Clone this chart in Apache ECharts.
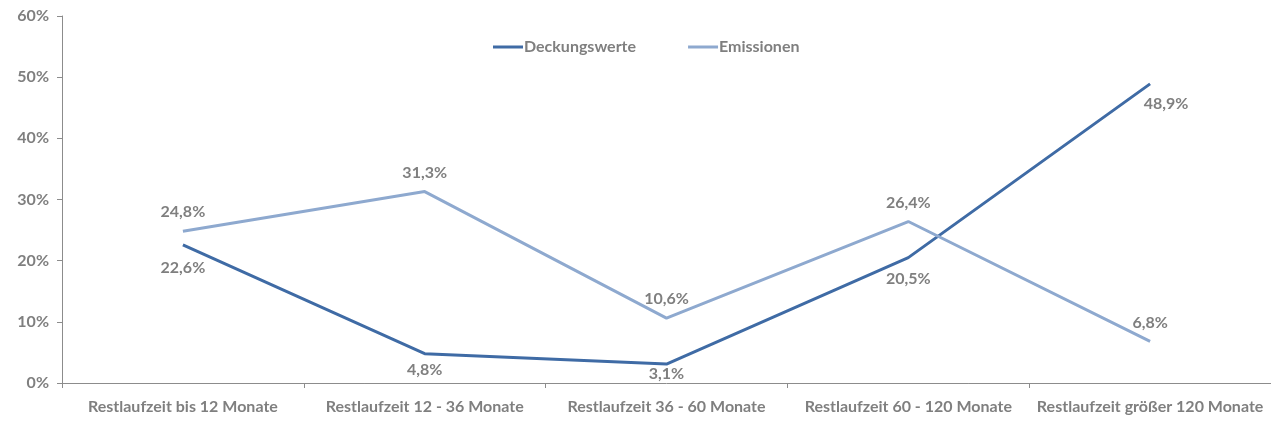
<!DOCTYPE html>
<html><head><meta charset="utf-8">
<script src="https://cdn.jsdelivr.net/npm/echarts@6/dist/echarts.min.js"></script>
<style>html,body{margin:0;padding:0;background:#fff}#c{width:1271px;height:424px}</style>
</head><body><div id="c"></div>
<script>
const categories = ['Restlaufzeit bis 12 Monate','Restlaufzeit 12 - 36 Monate','Restlaufzeit 36 - 60 Monate','Restlaufzeit 60 - 120 Monate','Restlaufzeit größer 120 Monate'];
const deckungswerte = [22.6, 4.8, 3.1, 20.5, 48.9];
const emissionen = [24.8, 31.3, 10.6, 26.4, 6.8];
const yTicks = [0,10,20,30,40,50,60];

const FONT = 'Lato';
const GREY = '#7f7f7f';
const FS = 16;
const C1 = '#3f6ba5', C2 = '#8ea9cf';
const fmt = v => v.toFixed(1).replace('.', ',') + '%';
const lowShift = [{dy:3},{dy:-4},{dy:-10},{dy:1},{dx:16}];
const chart = echarts.init(document.getElementById('c'));
chart.setOption({
  animation:false,
  textStyle:{fontFamily:FONT},
  grid:{left:62,right:0,top:16,bottom:41,containLabel:false},
  legend:{
    top:34,left:488,itemWidth:30,itemHeight:3,itemGap:52,
    icon:'rect',
    textStyle:{color:GREY,fontWeight:'bold',fontSize:FS,fontFamily:FONT,padding:[0,0,0,-4]},
    data:[{name:'Deckungswerte',itemStyle:{color:C1,opacity:1}},{name:'Emissionen',itemStyle:{color:C2,opacity:1}}]
  },
  xAxis:{
    type:'category',data:categories,boundaryGap:true,
    axisLine:{lineStyle:{color:'#8c8c8c',width:1}},
    axisTick:{show:true,length:5,lineStyle:{color:'#8c8c8c'}},
    axisLabel:{color:GREY,fontWeight:'bold',fontSize:FS,margin:16,fontFamily:FONT,interval:0}
  },
  yAxis:{
    type:'value',min:0,max:60,interval:10,
    axisLine:{show:true,lineStyle:{color:'#8c8c8c',width:1}},
    axisTick:{show:true,length:5,lineStyle:{color:'#8c8c8c'}},
    splitLine:{show:false},
    axisLabel:{color:GREY,fontWeight:'bold',fontSize:FS,margin:13,fontFamily:FONT,
      formatter:v=>yTicks.includes(v)?v+'%':''}
  },
  series:[
    {name:'Deckungswerte',type:'line',data:deckungswerte,symbol:'circle',symbolSize:0,showSymbol:true,
     lineStyle:{color:C1,width:3},itemStyle:{color:C1},
     label:{show:true,position:'bottom',distance:12,color:GREY,fontWeight:'bold',fontSize:FS,fontFamily:FONT,
       formatter:p=>fmt(p.value)},
     labelLayout:p=>lowShift[p.dataIndex]
    },
    {name:'Emissionen',type:'line',data:emissionen,symbol:'circle',symbolSize:0,showSymbol:true,
     lineStyle:{color:C2,width:3},itemStyle:{color:C2},
     label:{show:true,position:'top',distance:11,color:GREY,fontWeight:'bold',fontSize:FS,fontFamily:FONT,
       formatter:p=>fmt(p.value)}
    }
  ]
});
</script></body></html>
